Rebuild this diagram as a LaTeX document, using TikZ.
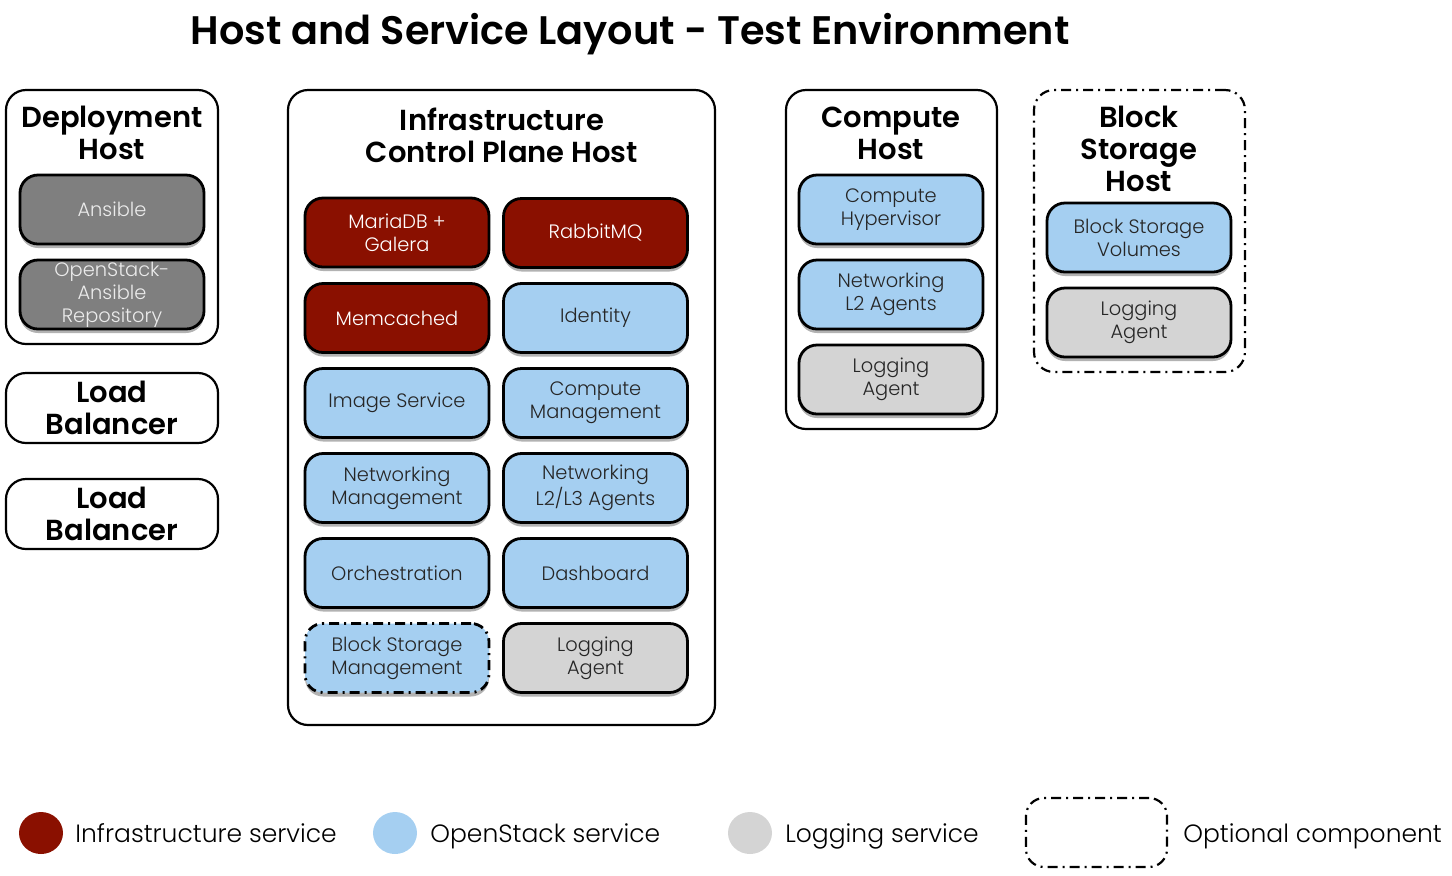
\documentclass[tikz,border=0pt]{standalone}
\usepackage{fontspec}
\setmainfont{Poppins}[BoldFont={Poppins SemiBold}]
\newfontfamily\lightfont{Poppins Light}
\usetikzlibrary{shadows,shapes.geometric}
\definecolor{infra}{HTML}{8A1000}
\definecolor{osblue}{HTML}{A5CFF1}
\definecolor{loggray}{HTML}{D4D4D4}
\definecolor{deploygray}{HTML}{7F7F7F}
\begin{document}
\begin{tikzpicture}[x=0.5pt,y=-0.5pt,
  svc/.style={draw=black, line width=1.4pt, rounded corners=9pt,
    minimum width=92pt, minimum height=34.5pt, align=center, inner sep=0pt,
    font=\lightfont\fontsize{9.7}{11.5}\selectfont,
    drop shadow={shadow xshift=0pt, shadow yshift=-2pt, opacity=0.3, fill=black}},
  infrasvc/.style={svc, fill=infra, text=white},
  ossvc/.style={svc, fill=osblue, text=black!85},
  logsvc/.style={svc, fill=loggray, text=black!85},
  depsvc/.style={svc, fill=deploygray, text=white!92!black},
  optional/.style={dash pattern=on 5pt off 2.5pt on 1pt off 2.5pt},
  hostbox/.style={draw=black, line width=1.1pt, rounded corners=10pt, inner sep=0pt},
  hosttitle/.style={align=center, font=\fontsize{14.5}{16}\selectfont\bfseries, inner sep=0pt},
  legtext/.style={anchor=base west, font=\lightfont\fontsize{12.5}{14}\selectfont, inner sep=0pt},
  legdot/.style={ellipse, minimum width=22pt, minimum height=21pt, inner sep=0pt}
]
\useasboundingbox (0,0) rectangle (1452,875);

\node[font=\fontsize{19.9}{22}\selectfont\bfseries, inner sep=0pt] (title) at (630,34) {Host and Service Layout - Test Environment};

% Deployment host
\node[hostbox, minimum width=106pt, minimum height=127pt] (dep) at (112,217) {};
\node[hosttitle] (deptitle) at (112,133) {Deployment\\Host};
\node[depsvc] (ansible) at (112,209.5) {Ansible};
\node[depsvc] (osa) at (112,294.5) {OpenStack-\\Ansible\\Repository};

% Load balancers
\node[hostbox, minimum width=106pt, minimum height=35pt, font=\fontsize{14.5}{16}\selectfont\bfseries, align=center] (lb1) at (112,408) {Load\\Balancer};
\node[hostbox, minimum width=106pt, minimum height=35pt, font=\fontsize{14.5}{16}\selectfont\bfseries, align=center] (lb2) at (112,514) {Load\\Balancer};

% Infrastructure host
\node[hostbox, minimum width=213.5pt, minimum height=317.5pt] (infra) at (501.5,407.5) {};
\node[hosttitle] (infratitle) at (502,135.5) {Infrastructure\\Control Plane Host};
\node[infrasvc] (maria) at (397,232.5) {MariaDB +\\Galera};
\node[infrasvc] (rabbit) at (595.5,233) {RabbitMQ};
\node[infrasvc] (memc) at (397,318) {Memcached};
\node[ossvc] (ident) at (595.5,318) {Identity};
\node[ossvc] (image) at (397,403) {Image Service};
\node[ossvc] (compmgmt) at (595.5,403) {Compute\\Management};
\node[ossvc] (netmgmt) at (397,488) {Networking\\Management};
\node[ossvc] (netag) at (595.5,488) {Networking\\L2/L3 Agents};
\node[ossvc] (orch) at (397,573) {Orchestration};
\node[ossvc] (dash) at (595.5,573) {Dashboard};
\node[ossvc, optional] (bsm) at (397,658) {Block Storage\\Management};
\node[logsvc] (log1) at (595.5,658) {Logging\\Agent};

% Compute host
\node[hostbox, minimum width=105.5pt, minimum height=169.5pt] (comp) at (891.5,259.5) {};
\node[hosttitle] (comptitle) at (891,133) {Compute\\Host};
\node[ossvc] (hyp) at (891,209.5) {Compute\\Hypervisor};
\node[ossvc] (l2) at (891,294.5) {Networking\\L2 Agents};
\node[logsvc] (log2) at (891,379.5) {Logging\\Agent};

% Block storage host
\node[hostbox, optional, minimum width=105.5pt, minimum height=141pt] (bs) at (1139.5,231) {};
\node[hosttitle] (bstitle) at (1139,149) {Block\\Storage\\Host};
\node[ossvc] (vol) at (1139,237.5) {Block Storage\\Volumes};
\node[logsvc] (log3) at (1139,322.5) {Logging\\Agent};

% Legend
\node[legdot, fill=infra] (d1) at (41,833) {};
\node[legtext] (t1) at (75,842) {Infrastructure service};
\node[legdot, fill=osblue] (d2) at (395,833) {};
\node[legtext] (t2) at (430,842) {OpenStack service};
\node[legdot, fill=loggray] (d3) at (750,833) {};
\node[legtext] (t3) at (785,842) {Logging service};
\node[draw=black, line width=1.1pt, optional, rounded corners=9pt, minimum width=70.5pt, minimum height=34.5pt, inner sep=0pt] (d4) at (1096.5,832.5) {};
\node[legtext] (t4) at (1183,842) {Optional component};
\end{tikzpicture}
\end{document}
